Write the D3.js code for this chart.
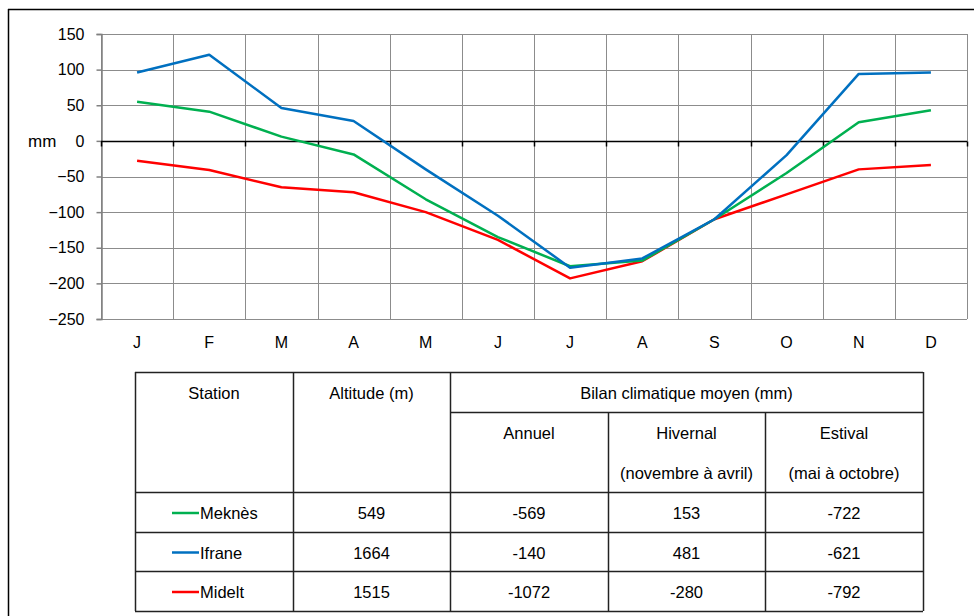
<!DOCTYPE html>
<html>
<head>
<meta charset="utf-8">
<script src="https://cdn.jsdelivr.net/npm/d3@7"></script>
<style>
  body { margin: 0; background: #fff; }
  svg { font-family: "Liberation Sans", Arial, sans-serif; }
</style>
</head>
<body>
<svg id="chart" width="974" height="616"></svg>
<script>
// data
const months = ["J", "F", "M", "A", "M", "J", "J", "A", "S", "O", "N", "D"];
const yTicks = [150, 100, 50, 0, -50, -100, -150, -200, -250];
const meknes = [55, 41, 6, -19, -82, -135, -176, -168, -110, -45, 26, 43];
const ifrane = [96, 121, 46, 28, -40, -105, -178, -165, -110, -20, 94, 96];
const midelt = [-28, -41, -65, -72, -100, -139, -193, -169, -110, -75, -40, -34];

const stations = ["Meknès", "Ifrane", "Midelt"];
const stationColors = ["#00b050", "#0070c0", "#ff0000"];
const altitudes = ["549", "1664", "1515"];
const annuel = ["-569", "-140", "-1072"];
const hivernal = ["153", "481", "-280"];
const estival = ["-722", "-621", "-792"];

const series = [meknes, ifrane, midelt];

const svg = d3.select("#chart");

/* outer frame (left and top edges show in the picture) */
svg.append("line").attr("x1", 8.5).attr("x2", 8.5).attr("y1", 9).attr("y2", 616)
    .attr("stroke", "#000").attr("stroke-width", 1.5);
svg.append("line").attr("x1", 8).attr("x2", 974).attr("y1", 9.5).attr("y2", 9.5)
    .attr("stroke", "#000").attr("stroke-width", 1.5);

/* plot area */
let plot = { left: 101, right: 967, top: 34, bottom: 319 };

let x = d3.scaleBand()
    .domain(d3.range(months.length))
    .range([plot.left, plot.right]);

let y = d3.scaleLinear()
    .domain([-250, 150])
    .range([plot.bottom, plot.top]);

let g = svg.append("g");

// horizontal grid
g.selectAll("line.hgrid")
    .data(yTicks)
    .join("line")
    .attr("class", "hgrid")
    .attr("x1", plot.left).attr("x2", plot.right)
    .attr("y1", d => Math.round(y(d)) + 0.5).attr("y2", d => Math.round(y(d)) + 0.5)
    .attr("stroke", "#8c8c8c").attr("stroke-width", 1);

// vertical grid on category boundaries
let bounds = d3.range(months.length + 1).map(i => i === months.length ? plot.right : x(i));
g.selectAll("line.vgrid")
    .data(bounds)
    .join("line")
    .attr("class", "vgrid")
    .attr("x1", d => Math.round(d) + 0.5).attr("x2", d => Math.round(d) + 0.5)
    .attr("y1", plot.top).attr("y2", plot.bottom)
    .attr("stroke", "#8c8c8c").attr("stroke-width", 1);

// y axis
let yAxis = d3.axisLeft(y).tickValues(yTicks).tickSize(5).tickPadding(12);
let yAxisG = svg.append("g")
    .attr("transform", "translate(" + (plot.left + 0.5) + ",0)")
    .call(yAxis);
yAxisG.select("path.domain").attr("stroke", "#808080").attr("stroke-width", 1.5);
yAxisG.selectAll(".tick line").attr("stroke", "#808080").attr("stroke-width", 1.5);
yAxisG.selectAll(".tick text")
    .style("font-size", "16px")
    .attr("fill", "#000")
    .style("font-family", "'Liberation Sans', Arial, sans-serif");

// zero line with ticks pointing down
let y0 = Math.round(y(0)) + 0.5;
svg.append("line").attr("x1", plot.left).attr("x2", plot.right)
    .attr("y1", y0).attr("y2", y0)
    .attr("stroke", "#000").attr("stroke-width", 1.5);
svg.selectAll("line.xtick")
    .data(bounds)
    .join("line")
    .attr("class", "xtick")
    .attr("x1", d => Math.round(d) + 0.5).attr("x2", d => Math.round(d) + 0.5)
    .attr("y1", y0).attr("y2", y0 + 5)
    .attr("stroke", "#000").attr("stroke-width", 1.5);

// month labels under the plot
svg.selectAll("text.month")
    .data(months)
    .join("text")
    .attr("class", "month")
    .attr("x", (d, i) => x(i) + x.bandwidth() / 2)
    .attr("y", 348)
    .attr("text-anchor", "middle")
    .style("font-size", "16px")
    .text(d => d);

// unit label
svg.append("text")
    .attr("x", 28).attr("y", 147)
    .style("font-size", "17px")
    .text("mm");

// lines
let line = d3.line()
    .x((d, i) => x(i) + x.bandwidth() / 2)
    .y(d => y(d));

// draw Midelt first so blue and green sit on top like in the picture
[2, 0, 1].forEach(k => {
    svg.append("path")
        .datum(series[k])
        .attr("fill", "none")
        .attr("stroke", stationColors[k])
        .attr("stroke-width", 2.5)
        .attr("stroke-linejoin", "round")
        .attr("d", line);
});

/* table */
let tCols = [135, 293, 450, 608, 765, 923];
let tRows = [372, 412, 492, 532, 571, 611];
let tg = svg.append("g");
let stroke = "#222";

function hline(x1, x2, yy) {
    tg.append("line").attr("x1", x1).attr("x2", x2).attr("y1", yy + 0.5).attr("y2", yy + 0.5)
        .attr("stroke", stroke).attr("stroke-width", 1.5);
}
function vline(xx, y1, y2) {
    tg.append("line").attr("x1", xx + 0.5).attr("x2", xx + 0.5).attr("y1", y1).attr("y2", y2)
        .attr("stroke", stroke).attr("stroke-width", 1.5);
}

hline(tCols[0], tCols[5], tRows[0]);
hline(tCols[2], tCols[5], tRows[1]);
[2, 3, 4, 5].forEach(r => hline(tCols[0], tCols[5], tRows[r]));
[0, 1, 2, 5].forEach(c => vline(tCols[c], tRows[0], tRows[5]));
[3, 4].forEach(c => vline(tCols[c], tRows[1], tRows[5]));

function cellText(txt, cx, cy, anchor) {
    tg.append("text")
        .attr("x", cx).attr("y", cy)
        .attr("text-anchor", anchor || "middle")
        .attr("dominant-baseline", "central")
        .style("font-size", "16.5px")
        .text(txt);
}

let mid = i => (tCols[i] + tCols[i + 1]) / 2;

cellText("Station", mid(0), 393);
cellText("Altitude (m)", mid(1), 393);
cellText("Bilan climatique moyen (mm)", (tCols[2] + tCols[5]) / 2, 393);
cellText("Annuel", mid(2), 433);
cellText("Hivernal", mid(3), 433);
cellText("Estival", mid(4), 433);
cellText("(novembre à avril)", mid(3), 473);
cellText("(mai à octobre)", mid(4), 473);

stations.forEach((s, i) => {
    let cy = (tRows[i + 2] + tRows[i + 3]) / 2 + 1;
    tg.append("line")
        .attr("x1", 172).attr("x2", 199)
        .attr("y1", cy).attr("y2", cy)
        .attr("stroke", stationColors[i]).attr("stroke-width", 2.5);
    cellText(s, 200, cy, "start");
    cellText(altitudes[i], mid(1), cy);
    cellText(annuel[i], mid(2), cy);
    cellText(hivernal[i], mid(3), cy);
    cellText(estival[i], mid(4), cy);
});
</script>
</body>
</html>
